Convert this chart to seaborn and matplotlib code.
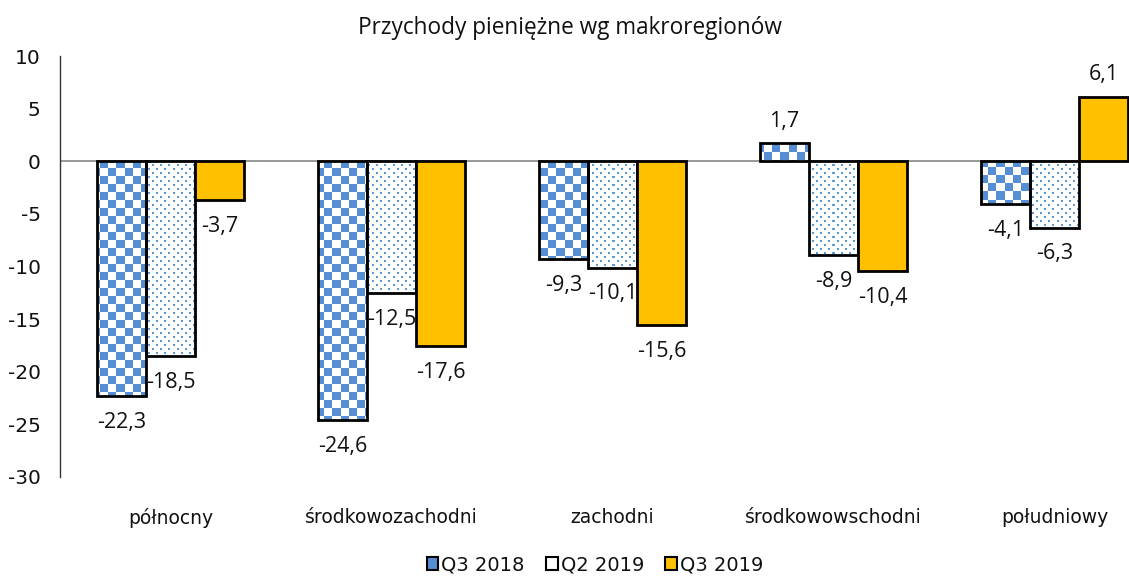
import numpy as np
import pandas as pd
import matplotlib
matplotlib.use("Agg")
import matplotlib.pyplot as plt
import seaborn as sns
from matplotlib.patches import Patch

categories = ["północny", "środkowozachodni", "zachodni", "środkowowschodni", "południowy"]
series = ["Q3 2018", "Q2 2019", "Q3 2019"]
q3_2018 = [-22.3, -24.6, -9.3, 1.7, -4.1]
q2_2019 = [-18.5, -12.5, -10.1, -8.9, -6.3]
q3_2019 = [-3.7, -17.6, -15.6, -10.4, 6.1]
title = "Przychody pieniężne wg makroregionów"
yticks = [10, 5, 0, -5, -10, -15, -20, -25, -30]

sns.set_theme(style="white")
plt.rcParams['font.family'] = ['DejaVu Sans']
plt.rcParams['axes.unicode_minus'] = False

df = pd.DataFrame({
    "region": categories * 3,
    "series": [series[0]] * 5 + [series[1]] * 5 + [series[2]] * 5,
    "value": q3_2018 + q2_2019 + q3_2019,
})

BLUE = "#558ED5"
DOTBLUE = "#5B9BD5"
GOLD = "#FFC000"

fig = plt.figure(figsize=(11.29, 5.77), dpi=100)
ax_left, ax_right = 60 / 1129, 1165 / 1129
ax_bottom, ax_top = 1 - 477 / 577, 1 - 56 / 577
ax = fig.add_axes([ax_left, ax_bottom, ax_right - ax_left, ax_top - ax_bottom])

sns.barplot(data=df, x="region", y="value", hue="series", order=categories,
            hue_order=series, palette=["white", "white", GOLD], width=0.666,
            edgecolor="black", linewidth=2, saturation=1, legend=False, ax=ax, zorder=3)

ax.set_xlim(-0.5, 4.5)
ax.set_ylim(-30, 10)
ax.set_yticks(yticks)
ax.set_yticklabels([str(t) for t in yticks])
ax.tick_params(axis="y", length=0, pad=14, labelsize=14.5, labelcolor="#111111")
ax.tick_params(axis="x", length=0, pad=22, labelsize=13.5, labelcolor="#111111")
ax.set_xlabel("")
ax.set_ylabel("")
for s in ["top", "right", "bottom"]:
    ax.spines[s].set_visible(False)
ax.spines["left"].set_color("#333333")
ax.spines["left"].set_linewidth(1)
ax.axhline(0, color="#888888", lw=1.2, zorder=2)

# pattern images in pixel resolution of the axes
W = int(round((ax_right - ax_left) * 1129))
H = 421
ii, jj = np.mgrid[0:H, 0:W]
white = np.array([1, 1, 1, 1.0])

def rgba(hexc):
    return np.array(matplotlib.colors.to_rgba(hexc))

checker = np.where((((ii // 8) + (jj // 8)) % 2 == 0)[..., None], rgba(BLUE), white)
row = ii // 4
dots_mask = ((ii % 4) < 2) & ((((jj + 4 * (row % 2)) % 8)) < 2)
dots = np.where(dots_mask[..., None], rgba(DOTBLUE), white)

for cont, img in zip(ax.containers[:2], [checker, dots]):
    for bar in cont:
        im = ax.imshow(img, extent=(-0.5, 4.5, -30, 10), aspect="auto",
                       interpolation="nearest", origin="upper", zorder=2.5)
        im.set_clip_path(bar)
        bar.set_facecolor("none")

ax.set_xlim(-0.5, 4.5)
ax.set_ylim(-30, 10)

for cont in ax.containers:
    for bar in cont:
        y0 = bar.get_y()
        h = bar.get_height()
        val = h if abs(y0) < 1e-9 else (y0 if h > 0 else y0 + h)
        xc = bar.get_x() + bar.get_width() / 2
        off = 16 if val > 0 else -19
        ax.annotate(f"{val:.1f}".replace(".", ","), (xc, val), xytext=(0, off),
                    textcoords="offset points", ha="center", va="center",
                    fontsize=15.5, family="Open Sans", color="#111111", zorder=5)

fig.text(570 / 1129, 1 - 28 / 577, title, ha="center", va="center",
         fontsize=16.3, family="Open Sans", color="#111111")

handles = [Patch(facecolor=BLUE, edgecolor="black", lw=1.5),
           Patch(facecolor="white", edgecolor="black", lw=1.5),
           Patch(facecolor=GOLD, edgecolor="black", lw=1.5)]
fig.legend(handles, series, loc="center", bbox_to_anchor=(595 / 1129, 1 - 565 / 577),
           ncol=3, frameon=False, handlelength=0.6, handleheight=0.6,
           handletextpad=0.15, columnspacing=1.1, fontsize=14, labelcolor="#111111")

fig.savefig("out.png", dpi=100)
